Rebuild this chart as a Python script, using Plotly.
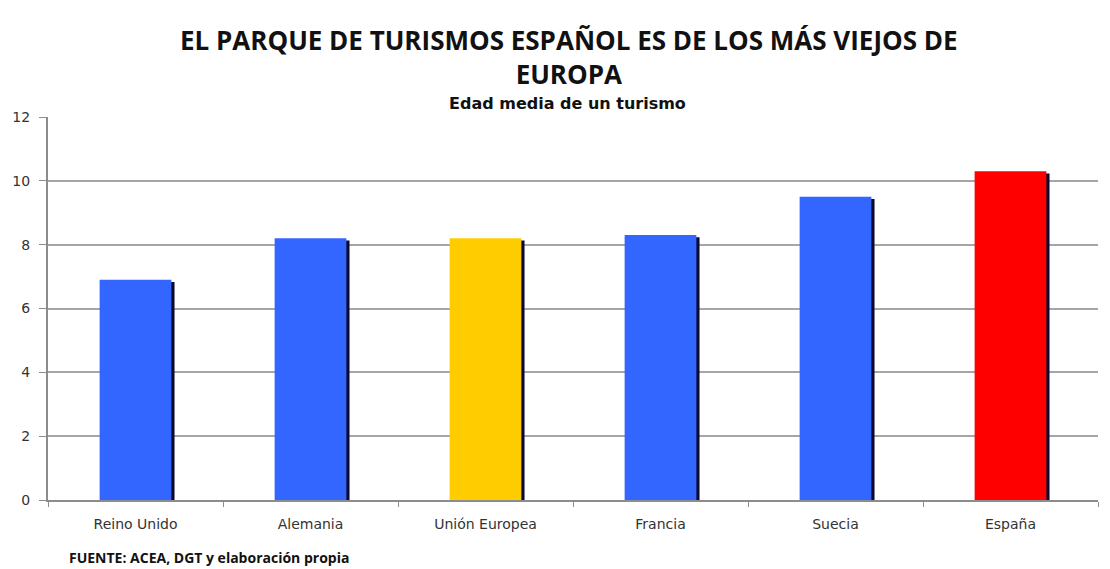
import plotly.graph_objects as go

# Average age of a passenger car, by country (years)
paises = ["Reino Unido", "Alemania", "Unión Europea", "Francia", "Suecia", "España"]
edad_media = [6.9, 8.2, 8.2, 8.3, 9.5, 10.3]
colores = ["#3366FF", "#3366FF", "#FFCC00", "#3366FF", "#3366FF", "#FF0000"]
y_ticks = [0, 2, 4, 6, 8, 10, 12]

BAR_W = 0.41
W, H = 1110, 569
ML, MR, MT, MB = 45, 12, 117, 69

fig = go.Figure()

# thin dark drop-shadow on the right of every bar
fig.add_trace(go.Bar(
    x=paises, y=edad_media, base=-0.07,
    width=BAR_W, offset=-BAR_W / 2 + 0.018,
    marker=dict(color="#0A0A30", line=dict(width=0)),
    hoverinfo="skip", showlegend=False,
))
fig.add_trace(go.Bar(
    x=paises, y=edad_media,
    width=BAR_W, offset=-BAR_W / 2,
    marker=dict(color=colores, line=dict(width=0)),
    showlegend=False,
))


def px_y(py):
    """Convert a pixel row (from the top of the page) to paper y."""
    return (H - MB - py) / (H - MT - MB)


def px_x(px):
    return (px - ML) / (W - ML - MR)


fig.update_layout(
    width=W, height=H,
    barmode="overlay",
    plot_bgcolor="white", paper_bgcolor="white",
    margin=dict(l=ML, r=MR, t=MT, b=MB),
    font=dict(family="DejaVu Sans", color="#333333", size=11),
    annotations=[
        dict(text="<b>EL PARQUE DE TURISMOS ESPAÑOL ES DE LOS MÁS VIEJOS DE<br>EUROPA</b>",
             x=px_x(567), xref="paper", y=px_y(57), yref="paper", showarrow=False,
             font=dict(family="Open Sans", size=26, color="#111111"), yanchor="middle"),
        dict(text="<b>Edad media de un turismo</b>",
             x=px_x(566), xref="paper", y=px_y(104), yref="paper", showarrow=False,
             font=dict(family="DejaVu Sans", size=16, color="#111111"), yanchor="middle"),
        dict(text="<b>FUENTE: ACEA, DGT y elaboración propia</b>",
             x=px_x(64), xref="paper", y=px_y(557), yref="paper", showarrow=False,
             font=dict(family="Open Sans", size=14, color="#111111"),
             xanchor="left", yanchor="middle"),
    ],
)

fig.update_xaxes(
    type="category", showgrid=False,
    showline=True, linecolor="#8C8C8C", linewidth=2,
    ticks="outside", tickson="boundaries", ticklen=5, tickcolor="#8C8C8C",
    ticklabelstandoff=10,
    tickfont=dict(family="DejaVu Sans", size=14, color="#333333"),
    range=[-0.5, 5.5],
)
fig.update_yaxes(
    range=[0, 12], tickvals=y_ticks, ticktext=[str(v) for v in y_ticks],
    showgrid=True, gridcolor="#A6A6A6", gridwidth=1.5,
    showline=True, linecolor="#8C8C8C", linewidth=2,
    ticks="outside", ticklen=7, tickcolor="#8C8C8C",
    ticklabelstandoff=6,
    tickfont=dict(family="DejaVu Sans", size=14, color="#333333"),
    zeroline=False,
)

fig.write_html("out.html")
